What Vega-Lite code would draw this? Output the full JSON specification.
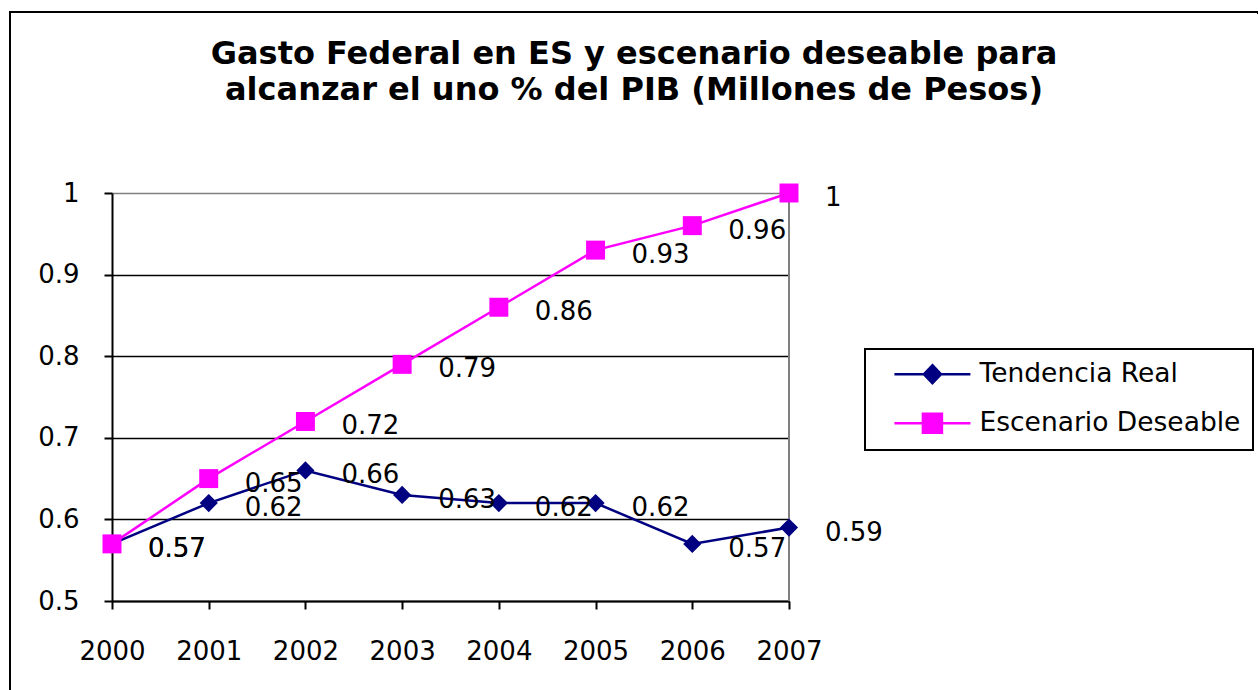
{
  "$schema": "https://vega.github.io/schema/vega-lite/v6.json",
  "width": 1248,
  "height": 678,
  "autosize": "none",
  "padding": {"left": 10, "top": 12, "right": 0, "bottom": 0},
  "background": "white",
  "config": {
    "view": {"stroke": "black", "strokeWidth": 2, "strokeDash": [1250, 1924, 680, 10]},
    "legend": {"strokeWidth": 2}
  },
  "title": {
    "text": ["Gasto Federal en ES y escenario deseable para", "alcanzar el uno % del PIB (Millones de Pesos)"],
    "frame": "group",
    "anchor": "middle",
    "offset": -95,
    "font": "DejaVu Sans",
    "fontSize": 32,
    "fontWeight": "bold",
    "color": "black",
    "lineHeight": 36
  },
  "data": {
    "values": [
      {"series": "Tendencia Real", "year": 2000, "value": 0.57},
      {"series": "Tendencia Real", "year": 2001, "value": 0.62},
      {"series": "Tendencia Real", "year": 2002, "value": 0.66},
      {"series": "Tendencia Real", "year": 2003, "value": 0.63},
      {"series": "Tendencia Real", "year": 2004, "value": 0.62},
      {"series": "Tendencia Real", "year": 2005, "value": 0.62},
      {"series": "Tendencia Real", "year": 2006, "value": 0.57},
      {"series": "Tendencia Real", "year": 2007, "value": 0.59},
      {"series": "Escenario Deseable", "year": 2000, "value": 0.57},
      {"series": "Escenario Deseable", "year": 2001, "value": 0.65},
      {"series": "Escenario Deseable", "year": 2002, "value": 0.72},
      {"series": "Escenario Deseable", "year": 2003, "value": 0.79},
      {"series": "Escenario Deseable", "year": 2004, "value": 0.86},
      {"series": "Escenario Deseable", "year": 2005, "value": 0.93},
      {"series": "Escenario Deseable", "year": 2006, "value": 0.96},
      {"series": "Escenario Deseable", "year": 2007, "value": 1.0}
    ]
  },
  "encoding": {
    "x": {
      "field": "year",
      "type": "ordinal",
      "scale": {"type": "point", "range": [102, 779], "padding": 0},
      "axis": {
        "title": null,
        "labelAngle": 0,
        "offset": -89,
        "domainColor": "black",
        "domainWidth": 2,
        "tickColor": "black",
        "tickWidth": 2,
        "tickSize": 8,
        "labelFont": "DejaVu Sans",
        "labelFontSize": 26,
        "labelColor": "black",
        "labelPadding": 29,
        "grid": false
      }
    },
    "y": {
      "field": "value",
      "type": "quantitative",
      "scale": {"domain": [0.5, 1], "range": [589, 181], "nice": false, "zero": false},
      "axis": {
        "title": null,
        "values": [0.5, 0.6, 0.7, 0.8, 0.9, 1],
        "format": "~g",
        "offset": -102,
        "domainColor": "black",
        "domainWidth": 2,
        "tickColor": "black",
        "tickWidth": 2,
        "tickSize": 8,
        "labelFont": "DejaVu Sans",
        "labelFontSize": 26,
        "labelColor": "black",
        "labelPadding": 25,
        "labelFlush": false,
        "grid": true,
        "gridColor": {"condition": {"test": "datum.value == 1", "value": "#808080"}, "value": "black"},
        "gridWidth": 1.5
      }
    }
  },
  "layer": [
    {
      "data": {"values": [{"year": 2007, "lo": 0.5, "hi": 1}]},
      "mark": {"type": "rule", "color": "#808080", "strokeWidth": 2},
      "encoding": {
        "x": {"field": "year", "type": "ordinal"},
        "y": {"field": "lo", "type": "quantitative"},
        "y2": {"field": "hi"}
      }
    },
    {
      "mark": {"type": "line", "strokeWidth": 2.5},
      "encoding": {
        "color": {
          "field": "series",
          "type": "nominal",
          "scale": {"domain": ["Tendencia Real", "Escenario Deseable"], "range": ["#000080", "#FF00FF"]},
          "legend": {
            "title": null,
            "orient": "none",
            "legendX": 855,
            "legendY": 337,
            "strokeColor": "black",
            "padding": 12,
            "symbolSize": 361,
            "labelFont": "DejaVu Sans",
            "labelFontSize": 26.5,
            "labelColor": "black",
            "labelOffset": 76,
            "rowPadding": 19,
            "labelLimit": 400,
            "encode": {
              "symbols": {
                "update": {
                  "shape": {"signal": "datum.value === 'Tendencia Real' ? 'M0.44,0L8.44,0M4.44,-0.95L5.34,0L4.44,0.95L3.54,0Z' : 'M0.44,0L8.44,0M3.44,-1L5.44,-1L5.44,1L3.44,1Z'"},
                  "fill": {"signal": "datum.value === 'Tendencia Real' ? '#000080' : '#FF00FF'"},
                  "stroke": {"signal": "datum.value === 'Tendencia Real' ? '#000080' : '#FF00FF'"},
                  "strokeWidth": {"value": 2.5},
                  "opacity": {"value": 1}
                }
              }
            }
          }
        }
      }
    },
    {
      "transform": [{"filter": "datum.series === 'Tendencia Real'"}],
      "mark": {"type": "point", "filled": true, "opacity": 1, "size": 330, "shape": "diamond", "color": "#000080"}
    },
    {
      "transform": [{"filter": "datum.series === 'Escenario Deseable'"}],
      "mark": {"type": "point", "filled": true, "opacity": 1, "size": 360, "shape": "square", "color": "#FF00FF"}
    },
    {
      "mark": {"type": "text", "align": "left", "baseline": "middle", "dx": 36, "dy": 5, "font": "DejaVu Sans", "fontSize": 26, "color": "black"},
      "encoding": {
        "text": {"field": "value", "type": "quantitative", "format": ".2~f"}
      }
    }
  ]
}
